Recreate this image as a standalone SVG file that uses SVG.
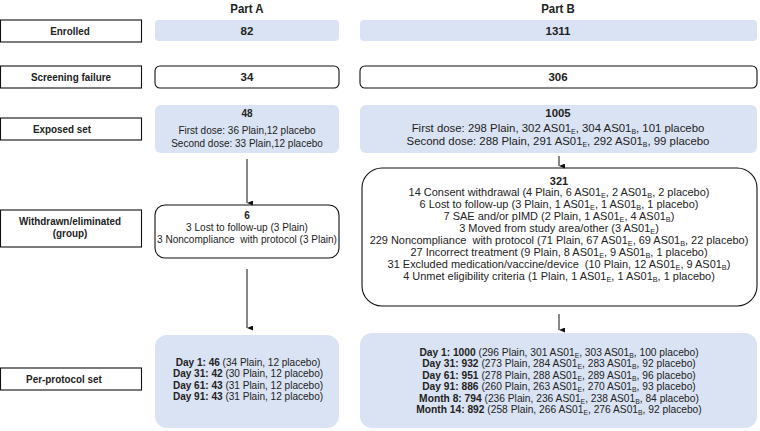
<svg xmlns="http://www.w3.org/2000/svg" width="760" height="431" viewBox="0 0 760 431">
<style>
text{font-family:"Liberation Sans",Arial,sans-serif;font-size:11.5px;fill:#222;text-anchor:middle}
.b{font-weight:bold}
.t{font-weight:bold;font-size:13px}
.sub{font-size:7px}
.s105{font-size:10.5px}
.lab{fill:#fff;stroke:#111;stroke-width:1.1}
.blue{fill:#dae3f3;stroke:none}
.wht{fill:#fff;stroke:#111;stroke-width:1.1}
.conn line{stroke:#111;stroke-width:1}
</style>
<defs>
<marker id="ah" viewBox="0 0 5 6" refX="2.5" refY="6" markerWidth="5" markerHeight="6" orient="auto" markerUnits="userSpaceOnUse">
<path d="M0,0 L5,0 L2.5,6 z" fill="#111"/>
</marker>
</defs>
<rect width="760" height="431" fill="#fff"/>
<g id="titles">
<text class="t" transform="translate(247,13) scale(0.88,1)">Part A</text>
<text class="t" transform="translate(558,13) scale(0.88,1)">Part B</text>
</g>

<g id="label-enrolled"><rect class="lab" x="0.5" y="20" width="141" height="22"/><text class="b" transform="translate(70,35) scale(0.86,1)">Enrolled</text></g>
<g id="label-screening"><rect class="lab" x="0.5" y="66" width="141" height="22"/><text class="b" transform="translate(71,81) scale(0.86,1)">Screening failure</text></g>
<g id="label-exposed"><rect class="lab" x="0.5" y="118" width="141" height="22"/><text class="b" transform="translate(62,133) scale(0.86,1)">Exposed set</text></g>
<g id="label-withdrawn"><rect class="lab" x="0.5" y="210" width="141" height="37"/><text class="b" transform="translate(70,225) scale(0.86,1)">Withdrawn/eliminated</text><text class="b" transform="translate(70,237) scale(0.86,1)">(group)</text></g>
<g id="label-pps"><rect class="lab" x="0.5" y="368" width="141" height="22"/><text class="b" transform="translate(64,383) scale(0.86,1)">Per-protocol set</text></g>

<g id="a-enrolled"><rect class="blue" x="155" y="20" width="184" height="21" rx="4"/><text class="b" x="247" y="35">82</text></g>
<g id="a-screening"><rect class="wht" x="155" y="66" width="184" height="22" rx="5"/><text class="b" x="247" y="81">34</text></g>
<g id="a-exposed"><rect class="blue" x="155" y="105" width="184" height="48" rx="6"/>
<g transform="translate(247,0) scale(0.87,1)">
<text class="b" x="0" y="117">48</text>
<text x="0" y="134">First dose: 36 Plain,12 placebo</text>
<text x="0" y="147">Second dose: 33 Plain,12 placebo</text>
</g></g>
<g id="a-withdrawn"><rect class="wht" x="155" y="205" width="184" height="53" rx="10"/>
<g transform="translate(247,0) scale(0.875,1)">
<text class="b" x="0" y="219">6</text>
<text x="0" y="231">3 Lost to follow-up (3 Plain)</text>
<text x="0" y="243" xml:space="preserve">3 Noncompliance  with protocol (3 Plain)</text>
</g></g>
<g id="a-pps"><rect class="blue" x="155" y="335" width="184" height="93" rx="12"/>
<g transform="translate(248,0) scale(0.958,1)">
<text class="s105" x="0" y="366"><tspan class="b">Day 1: 46</tspan> (34 Plain, 12 placebo)</text>
<text class="s105" x="0" y="377"><tspan class="b">Day 31: 42</tspan> (30 Plain, 12 placebo)</text>
<text class="s105" x="0" y="389"><tspan class="b">Day 61: 43</tspan> (31 Plain, 12 placebo)</text>
<text class="s105" x="0" y="400"><tspan class="b">Day 91: 43</tspan> (31 Plain, 12 placebo)</text>
</g></g>

<g id="b-enrolled"><rect class="blue" x="360" y="20" width="397" height="21" rx="4"/><text class="b" x="558" y="35">1311</text></g>
<g id="b-screening"><rect class="wht" x="360" y="66" width="397" height="22" rx="5"/><text class="b" x="558" y="81">306</text></g>
<g id="b-exposed"><rect class="blue" x="360" y="105" width="397" height="48" rx="6"/>
<g transform="translate(558,0) scale(0.99,1)">
<text class="b" x="0" y="117">1005</text>
<text x="0" y="132">First dose: 298 Plain, 302 AS01<tspan class="sub" dy="2">E</tspan><tspan dy="-2">, 304 AS01</tspan><tspan class="sub" dy="2">B</tspan><tspan dy="-2">, 101 placebo</tspan></text>
<text x="0" y="145">Second dose: 288 Plain, 291 AS01<tspan class="sub" dy="2">E</tspan><tspan dy="-2">, 292 AS01</tspan><tspan class="sub" dy="2">B</tspan><tspan dy="-2">, 99 placebo</tspan></text>
</g></g>
<g id="b-withdrawn"><rect class="wht" x="362" y="168" width="395" height="138" rx="20"/>
<g transform="translate(559,0) scale(1.045,1)">
<text class="b s105" x="0" y="185">321</text>
<text class="s105" x="0" y="196">14 Consent withdrawal (4 Plain, 6 AS01<tspan class="sub" dy="2">E</tspan><tspan dy="-2">, 2 AS01</tspan><tspan class="sub" dy="2">B</tspan><tspan dy="-2">, 2 placebo)</tspan></text>
<text class="s105" x="0" y="208">6 Lost to follow-up (3 Plain, 1 AS01<tspan class="sub" dy="2">E</tspan><tspan dy="-2">, 1 AS01</tspan><tspan class="sub" dy="2">B</tspan><tspan dy="-2">, 1 placebo)</tspan></text>
<text class="s105" x="0" y="220">7 SAE and/or pIMD (2 Plain, 1 AS01<tspan class="sub" dy="2">E</tspan><tspan dy="-2">, 4 AS01</tspan><tspan class="sub" dy="2">B</tspan><tspan dy="-2">)</tspan></text>
<text class="s105" x="0" y="232">3 Moved from study area/other (3 AS01<tspan class="sub" dy="2">E</tspan><tspan dy="-2">)</tspan></text>
<text class="s105" x="0" y="244" xml:space="preserve">229 Noncompliance  with protocol (71 Plain, 67 AS01<tspan class="sub" dy="2">E</tspan><tspan dy="-2">, 69 AS01</tspan><tspan class="sub" dy="2">B</tspan><tspan dy="-2">, 22 placebo)</tspan></text>
<text class="s105" x="0" y="256">27 Incorrect treatment (9 Plain, 8 AS01<tspan class="sub" dy="2">E</tspan><tspan dy="-2">, 9 AS01</tspan><tspan class="sub" dy="2">B</tspan><tspan dy="-2">, 1 placebo)</tspan></text>
<text class="s105" x="0" y="268" xml:space="preserve">31 Excluded medication/vaccine/device  (10 Plain, 12 AS01<tspan class="sub" dy="2">E</tspan><tspan dy="-2">, 9 AS01</tspan><tspan class="sub" dy="2">B</tspan><tspan dy="-2">)</tspan></text>
<text class="s105" x="0" y="280">4 Unmet eligibility criteria (1 Plain, 1 AS01<tspan class="sub" dy="2">E</tspan><tspan dy="-2">, 1 AS01</tspan><tspan class="sub" dy="2">B</tspan><tspan dy="-2">, 1 placebo)</tspan></text>
</g></g>
<g id="b-pps"><rect class="blue" x="360" y="333" width="397" height="95" rx="12"/>
<g transform="translate(559,0) scale(0.975,1)">
<text class="s105" x="0" y="356"><tspan class="b">Day 1: 1000</tspan> (296 Plain, 301 AS01<tspan class="sub" dy="2">E</tspan><tspan dy="-2">, 303 AS01</tspan><tspan class="sub" dy="2">B</tspan><tspan dy="-2">, 100 placebo)</tspan></text>
<text class="s105" x="0" y="367"><tspan class="b">Day 31: 932</tspan> (273 Plain, 284 AS01<tspan class="sub" dy="2">E</tspan><tspan dy="-2">, 283 AS01</tspan><tspan class="sub" dy="2">B</tspan><tspan dy="-2">, 92 placebo)</tspan></text>
<text class="s105" x="0" y="379"><tspan class="b">Day 61: 951</tspan> (278 Plain, 288 AS01<tspan class="sub" dy="2">E</tspan><tspan dy="-2">, 289 AS01</tspan><tspan class="sub" dy="2">B</tspan><tspan dy="-2">, 96 placebo)</tspan></text>
<text class="s105" x="0" y="390"><tspan class="b">Day 91: 886</tspan> (260 Plain, 263 AS01<tspan class="sub" dy="2">E</tspan><tspan dy="-2">, 270 AS01</tspan><tspan class="sub" dy="2">B</tspan><tspan dy="-2">, 93 placebo)</tspan></text>
<text class="s105" x="0" y="402"><tspan class="b">Month 8: 794</tspan> (236 Plain, 236 AS01<tspan class="sub" dy="2">E</tspan><tspan dy="-2">, 238 AS01</tspan><tspan class="sub" dy="2">B</tspan><tspan dy="-2">, 84 placebo)</tspan></text>
<text class="s105" x="0" y="413"><tspan class="b">Month 14: 892</tspan> (258 Plain, 266 AS01<tspan class="sub" dy="2">E</tspan><tspan dy="-2">, 276 AS01</tspan><tspan class="sub" dy="2">B</tspan><tspan dy="-2">, 92 placebo)</tspan></text>
</g></g>

<g id="connectors" class="conn">
<line x1="247" y1="159" x2="247" y2="203" marker-end="url(#ah)"/>
<line x1="247" y1="269" x2="247" y2="328" marker-end="url(#ah)"/>
<line x1="559" y1="156" x2="559" y2="166" marker-end="url(#ah)"/>
<line x1="559" y1="314" x2="559" y2="330" marker-end="url(#ah)"/>
</g>
</svg>
